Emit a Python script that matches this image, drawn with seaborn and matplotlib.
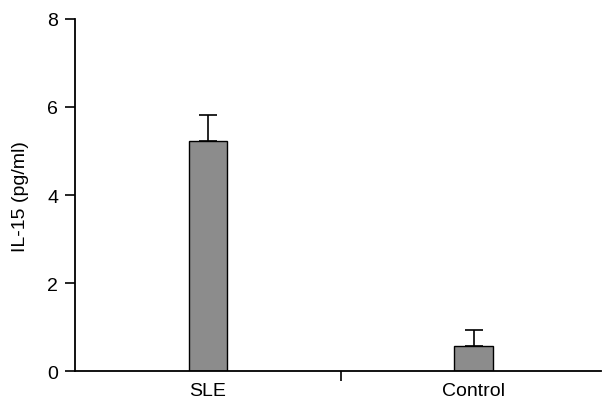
import pandas as pd
import numpy as np
import matplotlib.pyplot as plt
import seaborn as sns

# values
groups = ["SLE", "Control"]
means = [5.22, 0.58]
sem = [0.6, 0.35]
y_ticks = [0, 2, 4, 6, 8]

df = pd.DataFrame({"group": groups, "il15": means})

sns.set_style("ticks")
plt.rcParams['font.family'] = ['Liberation Sans', 'DejaVu Sans']
plt.rcParams['text.color'] = 'black'
plt.rcParams['xtick.color'] = 'black'
plt.rcParams['ytick.color'] = 'black'
plt.rcParams['axes.labelcolor'] = 'black'
plt.rcParams['axes.edgecolor'] = 'black'

fig = plt.figure(figsize=(6.05, 4.06), dpi=100)
ax = fig.add_axes([0.124, 0.083, 0.87, 0.868])

sns.barplot(data=df, x="group", y="il15", color="#8c8c8c", edgecolor="black",
            linewidth=1.0, width=0.145, errorbar=None, saturation=1, ax=ax)
ax.errorbar(range(len(groups)), means, yerr=[np.zeros(len(sem)), sem], fmt="none",
            ecolor="black", elinewidth=1.2, capsize=6.5, capthick=1.2)

ax.set_ylim(0, 8)
ax.set_xlim(-0.5, 1.48)
ax.set_yticks(y_ticks)
ax.set_xticks([0.5], minor=True)
ax.tick_params(axis="x", which="major", length=0, labelsize=14, pad=8)
ax.tick_params(axis="x", which="minor", length=7, width=1.2, direction="out")
ax.tick_params(axis="y", length=7, width=1.2, labelsize=14, pad=5)
ax.set_xlabel("")
ax.set_ylabel("IL-15 (pg/ml)", fontsize=14, labelpad=13)
sns.despine(ax=ax)
ax.spines["left"].set_linewidth(1.3)
ax.spines["bottom"].set_linewidth(1.3)

plt.savefig("out.png", dpi=100)
